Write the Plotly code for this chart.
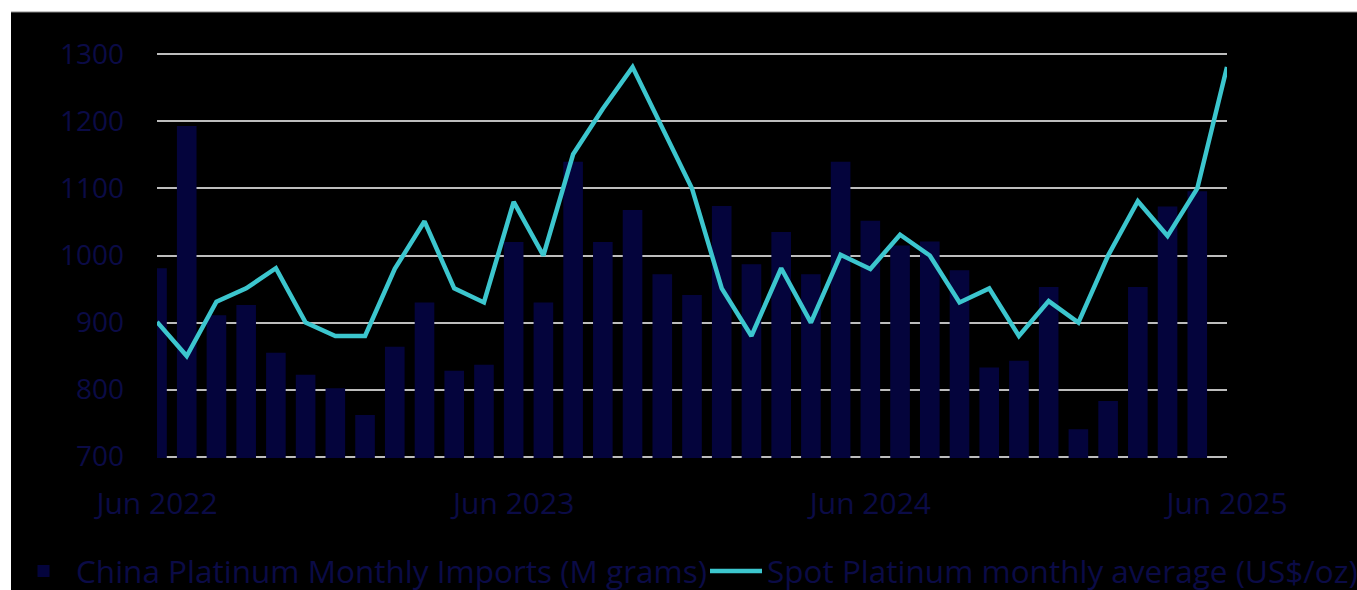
import plotly.graph_objects as go

months = [
    "Jun 2022", "Jul 2022", "Aug 2022", "Sep 2022", "Oct 2022", "Nov 2022", "Dec 2022",
    "Jan 2023", "Feb 2023", "Mar 2023", "Apr 2023", "May 2023", "Jun 2023", "Jul 2023",
    "Aug 2023", "Sep 2023", "Oct 2023", "Nov 2023", "Dec 2023", "Jan 2024", "Feb 2024",
    "Mar 2024", "Apr 2024", "May 2024", "Jun 2024", "Jul 2024", "Aug 2024", "Sep 2024",
    "Oct 2024", "Nov 2024", "Dec 2024", "Jan 2025", "Feb 2025", "Mar 2025", "Apr 2025",
    "May 2025", "Jun 2025",
]

imports_mg = [
    981, 1193, 911, 926, 855, 822, 802, 762, 864, 930, 828, 837, 1020, 930,
    1140, 1020, 1068, 972, 941, 1074, 987, 1035, 972, 1140, 1052, 1015, 1021,
    978, 833, 843, 953, 741, 783, 953, 1073, 1096, None,
]

spot_usd_oz = [
    901, 850, 931, 951, 981, 900, 880, 880, 980, 1051, 951, 930, 1080, 1000,
    1151, 1219, 1281, 1191, 1100, 951, 880, 981, 900, 1001, 980, 1031, 1000,
    930, 951, 880, 932, 900, 1000, 1081, 1029, 1100, 1281,
]

xtick_labels = ["Jun 2022", "Jun 2023", "Jun 2024", "Jun 2025"]
ytick_vals = [700, 800, 900, 1000, 1100, 1200, 1300]

NAVY = "#04043c"
TEXT = "#0b0b46"
TEAL = "#3cc6ce"
GRID = "#bdbdbd"
FONT = "Open Sans"

W, H = 1357, 590
ML, MR, MT, MB = 157, 130, 53, 132
PW, PH = W - ML - MR, H - MT - MB


def px_x(px):
    return (px - ML) / PW


def px_y(py):
    return (H - MB - py) / PH


fig = go.Figure()
fig.add_trace(go.Bar(
    x=months, y=imports_mg, name="China Platinum Monthly Imports (M grams)",
    marker=dict(color=NAVY, line=dict(width=0)), legend="legend",
))
fig.add_trace(go.Scatter(
    x=months, y=spot_usd_oz, name="Spot Platinum monthly average (US$/oz)",
    mode="lines", line=dict(color=TEAL, width=4.5), legend="legend2",
))

fig.update_layout(
    width=W, height=H,
    showlegend=True,
    paper_bgcolor="white", plot_bgcolor="black",
    margin=dict(l=ML, r=MR, t=MT, b=MB, pad=0),
    bargap=0.34,
    font=dict(family=FONT, color=TEXT, size=27),
    xaxis=dict(
        type="category", categoryorder="array", categoryarray=months,
        range=[0, 36], tickvals=xtick_labels, ticktext=xtick_labels,
        showgrid=False, showline=False, zeroline=False, ticks="",
        ticklabelstandoff=25, tickfont=dict(family=FONT, color=TEXT, size=30),
    ),
    yaxis=dict(
        range=[698, 1302], tickvals=ytick_vals, showgrid=True, gridcolor=GRID,
        gridwidth=2, zeroline=False, showline=False, ticks="",
        ticklabelstandoff=32, tickfont=dict(family=FONT, color=TEXT, size=28),
    ),
    legend=dict(
        orientation="h", xref="container", yref="container",
        x=11 / W, y=(H - 571) / H, xanchor="left", yanchor="middle",
        bgcolor="rgba(0,0,0,0)", itemwidth=55,
        font=dict(family=FONT, color=TEXT, size=31.5),
    ),
    legend2=dict(
        orientation="h", xref="container", yref="container",
        x=705 / W, y=(H - 571) / H, xanchor="left", yanchor="middle",
        bgcolor="rgba(0,0,0,0)", itemwidth=52,
        font=dict(family=FONT, color=TEXT, size=31.5),
    ),
    shapes=[
        dict(type="rect", xref="paper", yref="paper", layer="below",
             x0=px_x(11), x1=px_x(W + 2), y0=px_y(H + 2), y1=px_y(12),
             fillcolor="black", line=dict(width=0)),
        dict(type="line", xref="paper", yref="paper", layer="above",
             x0=px_x(11), x1=px_x(W + 2), y0=px_y(12), y1=px_y(12),
             line=dict(color="#8a8a8a", width=1)),
    ],
)

fig.write_html(
    "out.html",
    config={"displayModeBar": False},
    post_script="document.body.style.margin='0';document.body.style.overflow='hidden';",
)
